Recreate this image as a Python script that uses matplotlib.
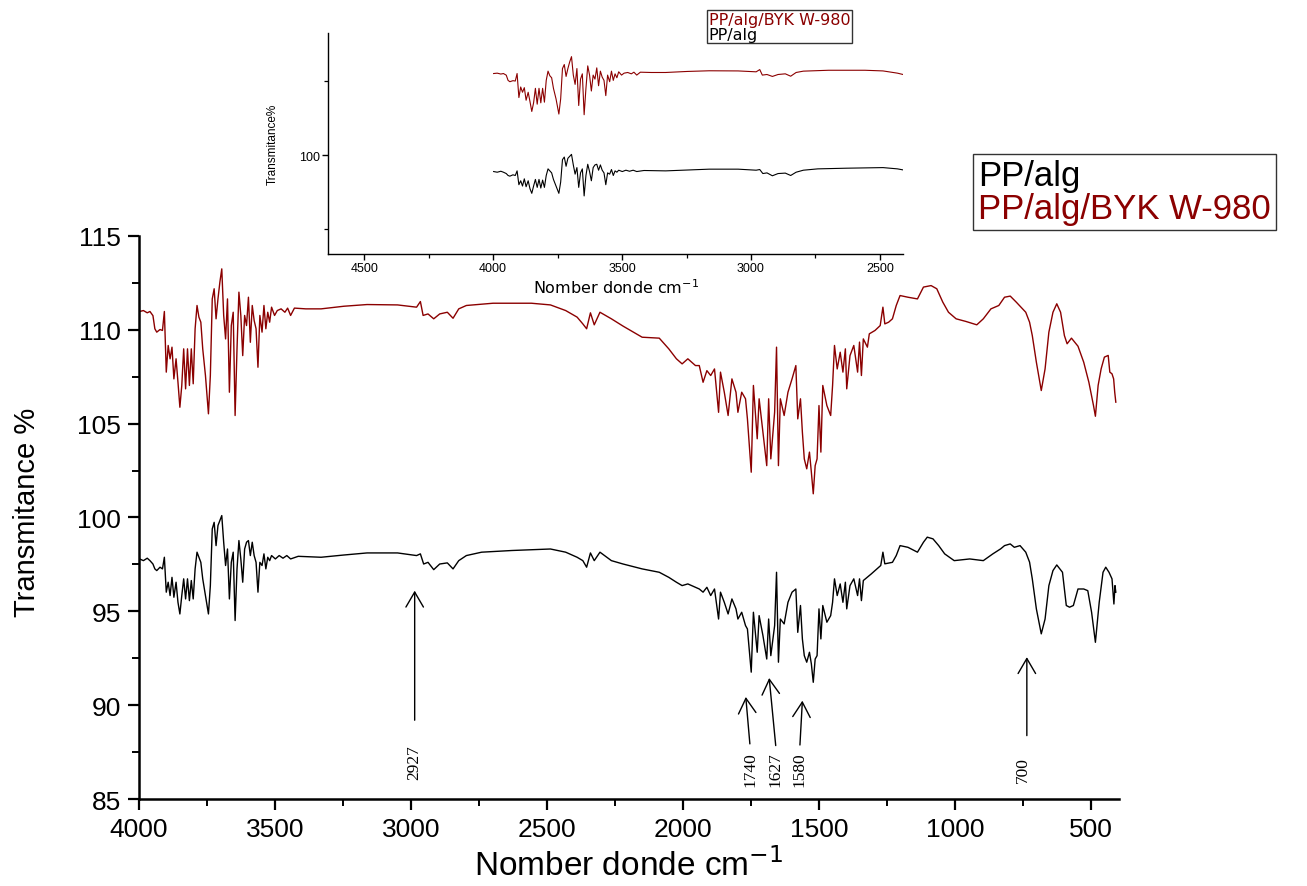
import matplotlib
matplotlib.use("Agg")
import matplotlib.pyplot as plt
from matplotlib.ticker import MultipleLocator
from matplotlib.lines import Line2D

# PP/alg (black)
wn_alg = [3998, 3984, 3970, 3960, 3949, 3942, 3935, 3923, 3914, 3907, 3900, 3893, 3886, 3879, 3872,
          3864, 3857, 3850, 3843, 3836, 3829, 3822, 3815, 3808, 3801, 3794, 3787, 3780, 3773, 3766,
          3756, 3745, 3738, 3731, 3724, 3717, 3710, 3703, 3696, 3689, 3682, 3675, 3668, 3661, 3654,
          3647, 3640, 3633, 3626, 3619, 3612, 3605, 3598, 3591, 3584, 3577, 3570, 3563, 3556, 3548,
          3541, 3534, 3527, 3520, 3513, 3499, 3485, 3471, 3457, 3443, 3415, 3331, 3247, 3162, 3050,
          2980, 2966, 2954, 2938, 2917, 2895, 2867, 2846, 2825, 2797, 2741, 2629, 2488, 2432, 2390,
          2369, 2355, 2341, 2327, 2306, 2264, 2221, 2151, 2088, 2053, 2025, 2004, 1983, 1955, 1941,
          1927, 1913, 1899, 1885, 1870, 1863, 1849, 1835, 1821, 1806, 1799, 1785, 1771, 1764, 1750,
          1742, 1728, 1721, 1707, 1693, 1686, 1678, 1664, 1657, 1650, 1643, 1629, 1615, 1600, 1586,
          1579, 1569, 1562, 1555, 1546, 1536, 1529, 1522, 1515, 1508, 1501, 1494, 1487, 1472, 1458,
          1451, 1444, 1434, 1423, 1413, 1404, 1399, 1387, 1373, 1359, 1352, 1345, 1338, 1323, 1309,
          1288, 1274, 1266, 1259, 1231, 1217, 1203, 1174, 1139, 1117, 1103, 1082, 1061, 1039, 1004,
          947, 897, 862, 833, 819, 798, 783, 762, 741, 727, 717, 702, 684, 670, 656,
          641, 627, 606, 592, 580, 566, 549, 528, 513, 499, 485, 471, 457, 447, 435,
          424, 417, 413, 410]
t_alg = [97.79, 97.70, 97.83, 97.70, 97.52, 97.26, 97.17, 97.35, 97.26, 97.88, 96.02, 96.55, 95.84, 96.81, 95.75,
         96.55, 95.48, 94.86, 95.84, 96.73, 95.66, 96.73, 95.57, 96.64, 95.66, 97.26, 98.15, 97.88, 97.61, 96.73,
         95.84, 94.86, 96.37, 99.39, 99.74, 98.50, 99.57, 99.83, 100.10, 98.68, 97.44, 98.32, 95.66, 97.61, 98.15,
         94.51, 97.26, 98.77, 97.79, 96.55, 98.32, 98.68, 98.77, 97.97, 98.68, 97.97, 97.61, 96.02, 97.61, 97.44,
         98.06, 97.26, 97.88, 97.70, 97.97, 97.79, 97.97, 97.83, 97.97, 97.79, 97.93, 97.88, 98.00, 98.11, 98.11,
         97.97, 98.06, 97.52, 97.61, 97.22, 97.52, 97.58, 97.26, 97.70, 97.97, 98.15, 98.24, 98.32, 98.15, 97.88,
         97.70, 97.35, 98.11, 97.70, 98.15, 97.70, 97.52, 97.26, 97.08, 96.81, 96.55, 96.37, 96.46, 96.28, 96.19,
         96.02, 96.28, 95.84, 96.19, 94.59, 96.02, 95.48, 94.86, 95.66, 95.13, 94.59, 94.95, 94.24, 94.06, 91.76,
         94.95, 92.82, 94.77, 93.71, 92.46, 94.59, 92.64, 94.24, 97.08, 92.29, 94.59, 94.33, 95.48, 96.02, 96.19,
         93.88, 95.31, 93.53, 92.64, 92.29, 92.82, 92.20, 91.22, 92.46, 92.64, 95.13, 93.53, 95.31, 94.42, 94.77,
         95.48, 96.73, 95.84, 96.46, 95.48, 96.55, 95.13, 96.37, 96.73, 95.84, 96.73, 95.57, 96.64, 96.82, 96.99,
         97.26, 97.44, 98.15, 97.53, 97.61, 97.97, 98.50, 98.41, 98.15, 98.68, 98.95, 98.86, 98.50, 98.06, 97.70,
         97.79, 97.70, 98.06, 98.33, 98.50, 98.59, 98.41, 98.50, 98.15, 97.62, 96.73, 95.13, 93.80, 94.59, 96.37,
         97.17, 97.47, 97.08, 95.31, 95.22, 95.31, 96.19, 96.19, 96.10, 94.95, 93.35, 95.48, 97.08, 97.35, 97.08,
         96.73, 95.39, 96.37, 96.02]

# PP/alg/BYK W-980 (dark red)
wn_byk = [3998, 3984, 3970, 3960, 3949, 3942, 3935, 3923, 3914, 3907, 3900, 3893, 3886, 3879, 3872,
          3864, 3857, 3850, 3843, 3836, 3829, 3822, 3815, 3808, 3801, 3794, 3787, 3780, 3773, 3766,
          3756, 3745, 3738, 3731, 3724, 3717, 3710, 3703, 3696, 3689, 3682, 3675, 3668, 3661, 3654,
          3647, 3640, 3633, 3626, 3619, 3612, 3605, 3598, 3591, 3584, 3577, 3570, 3563, 3556, 3548,
          3541, 3534, 3527, 3520, 3513, 3502, 3492, 3478, 3464, 3454, 3443, 3429, 3387, 3331, 3247,
          3162, 3050, 2980, 2966, 2956, 2938, 2917, 2895, 2867, 2846, 2825, 2797, 2699, 2558, 2488,
          2432, 2390, 2369, 2355, 2341, 2327, 2306, 2264, 2221, 2151, 2088, 2053, 2025, 2004, 1983,
          1955, 1941, 1927, 1913, 1899, 1885, 1870, 1863, 1849, 1835, 1821, 1806, 1799, 1785, 1771,
          1764, 1750, 1742, 1728, 1721, 1707, 1693, 1686, 1678, 1664, 1657, 1650, 1643, 1629, 1615,
          1600, 1586, 1579, 1569, 1562, 1555, 1546, 1536, 1529, 1522, 1515, 1508, 1501, 1494, 1487,
          1472, 1458, 1451, 1444, 1434, 1423, 1413, 1404, 1399, 1387, 1373, 1359, 1352, 1345, 1338,
          1323, 1316, 1295, 1276, 1266, 1259, 1245, 1231, 1217, 1203, 1174, 1139, 1117, 1089, 1068,
          1046, 1025, 997, 961, 921, 897, 869, 840, 819, 798, 776, 741, 727, 717, 702,
          684, 670, 656, 641, 627, 613, 599, 589, 573, 549, 528, 509, 492, 485, 475,
          464, 452, 438, 432, 424, 418, 414, 410]
t_byk = [110.97, 111.02, 110.90, 110.97, 110.75, 110.05, 109.87, 110.01, 109.96, 110.97, 107.74, 109.16, 108.45, 109.07, 107.38,
         108.45, 107.20, 105.87, 107.03, 108.98, 106.85, 108.98, 107.03, 108.98, 107.12, 110.05, 111.29, 110.67, 110.40, 108.98,
         107.56, 105.52, 107.56, 111.64, 112.18, 110.58, 111.64, 112.53, 113.24, 110.76, 109.51, 111.64, 106.67, 110.22, 110.93,
         105.43, 108.98, 112.00, 110.76, 108.62, 110.76, 110.22, 111.73, 109.33, 111.29, 110.49, 110.05, 108.00, 110.76, 109.87,
         111.29, 110.05, 110.93, 110.40, 111.20, 110.76, 111.02, 111.11, 110.93, 111.15, 110.76, 111.15, 111.11, 111.11, 111.25,
         111.34, 111.32, 111.20, 111.50, 110.76, 110.84, 110.58, 110.84, 110.93, 110.61, 111.11, 111.29, 111.41, 111.41, 111.32,
         111.02, 110.67, 110.31, 110.05, 110.90, 110.26, 110.93, 110.58, 110.19, 109.60, 109.55, 108.98, 108.45, 108.18, 108.45,
         108.09, 108.09, 107.20, 107.82, 107.56, 107.91, 105.60, 107.74, 106.67, 105.43, 107.38, 106.67, 105.60, 106.67, 106.32,
         105.25, 102.41, 107.03, 104.19, 106.32, 104.54, 102.76, 106.32, 103.12, 105.61, 109.07, 102.76, 106.32, 105.43, 106.67,
         107.38, 108.09, 105.25, 106.32, 104.54, 103.12, 102.59, 103.48, 102.41, 101.26, 102.76, 103.12, 105.96, 103.48, 107.03,
         105.96, 105.43, 107.03, 109.16, 107.91, 108.80, 107.74, 108.98, 106.85, 108.62, 109.16, 107.74, 109.34, 107.56, 109.51,
         109.07, 109.78, 109.96, 110.22, 111.20, 110.31, 110.40, 110.58, 111.29, 111.82, 111.73, 111.64, 112.27, 112.35, 112.18,
         111.47, 110.93, 110.58, 110.44, 110.26, 110.58, 111.11, 111.29, 111.73, 111.79, 111.47, 110.93, 110.40, 109.69, 108.27,
         106.76, 107.91, 109.87, 110.93, 111.38, 110.93, 109.69, 109.25, 109.55, 109.12, 108.27, 107.20, 105.96, 105.39, 107.03,
         107.91, 108.54, 108.63, 107.74, 107.65, 107.38, 106.67, 106.14]

labels = ["PP/alg", "PP/alg/BYK W-980"]
colors = ["black", "#8b0000"]

# marked bands: label, arrow tip (x, y), arrow tail (x, y), text position
peak_labels = ["2927", "1740", "1627", "1580", "700"]
tip_x = [2987, 1770, 1684, 1562, 737]
tip_y = [96.1, 90.44, 91.45, 90.24, 92.56]
tail_x = [2987, 1755, 1660, 1571, 737]
tail_y = [89.2, 87.94, 87.85, 87.88, 88.38]
text_x = [2987, 1752, 1662, 1571, 752]
text_y = [87.0, 86.6, 86.6, 86.6, 86.6]

plt.rcParams['font.family'] = ['Liberation Sans', 'DejaVu Sans']

fig = plt.figure(figsize=(13.07, 8.87), dpi=100)
ax = fig.add_axes([0.1064, 0.098, 0.7494, 0.635])

l1, = ax.plot(wn_alg, t_alg, color=colors[0], lw=1.0)
l2, = ax.plot(wn_byk, t_byk, color=colors[1], lw=1.0)

ax.set_xlim(4000, 400)
ax.set_ylim(85, 115)
ax.xaxis.set_major_locator(MultipleLocator(500))
ax.xaxis.set_minor_locator(MultipleLocator(250))
ax.yaxis.set_major_locator(MultipleLocator(5))
ax.yaxis.set_minor_locator(MultipleLocator(2.5))
ax.tick_params(which='major', length=8, width=1.6, labelsize=19, pad=5)
ax.tick_params(which='minor', length=5, width=1.4)
for s in ['top', 'right']:
    ax.spines[s].set_visible(False)
for s in ['left', 'bottom']:
    ax.spines[s].set_linewidth(1.8)

ax.set_xlabel("Nomber donde cm$^{-1}$", fontsize=24)
ax.xaxis.set_label_coords(0.5, -0.086)
ax.set_ylabel("Transmitance %", fontsize=21)
ax.yaxis.set_label_coords(-0.100, 0.51)

for i in range(len(peak_labels)):
    ax.annotate("", xy=(tip_x[i], tip_y[i]), xytext=(tail_x[i], tail_y[i]),
                arrowprops=dict(arrowstyle='->,head_length=0.6,head_width=0.35',
                                lw=1.0, color='black', shrinkA=0, shrinkB=0,
                                mutation_scale=18))
    ax.text(text_x[i], text_y[i], peak_labels[i], rotation=90, ha='center', va='center',
            fontsize=12.5, family='Liberation Serif')

leg = ax.legend([Line2D([], [], lw=0), Line2D([], [], lw=0)], labels,
                handlelength=0, handletextpad=0, labelcolor=colors,
                loc='upper left', bbox_to_anchor=(973 / 1307, 1 - 155 / 887),
                bbox_transform=fig.transFigure, fontsize=25, frameon=True,
                fancybox=False, edgecolor='black', borderpad=0.15,
                labelspacing=0.0, borderaxespad=0)
leg.get_frame().set_linewidth(1.0)

# inset: zoom on the high wavenumber region
ax_in = fig.add_axes([0.251, 0.7125, 0.440, 0.249])
ax_in.set_facecolor('none')
ax_in.plot(wn_alg, t_alg, color=colors[0], lw=0.8)
ax_in.plot(wn_byk, t_byk, color=colors[1], lw=0.8)
ax_in.set_xlim(4640, 2410)
ax_in.set_ylim(86.7, 116.4)
ax_in.xaxis.set_major_locator(MultipleLocator(500))
ax_in.xaxis.set_minor_locator(MultipleLocator(250))
ax_in.yaxis.set_major_locator(MultipleLocator(20))
ax_in.yaxis.set_minor_locator(MultipleLocator(10))
ax_in.tick_params(which='major', length=4, width=1.0, labelsize=9, pad=2)
ax_in.tick_params(which='minor', length=3, width=0.9)
for s in ['top', 'right']:
    ax_in.spines[s].set_visible(False)
for s in ['left', 'bottom']:
    ax_in.spines[s].set_linewidth(1.0)
ax_in.set_xlabel("Nomber donde cm$^{-1}$", fontsize=11.5, family='DejaVu Sans', labelpad=2)
ax_in.set_ylabel("Transmitance%", fontsize=8.5, labelpad=14)

leg_in = ax_in.legend([Line2D([], [], lw=0), Line2D([], [], lw=0)], labels[::-1],
                      handlelength=0, handletextpad=0, labelcolor=colors[::-1],
                      loc='upper left', bbox_to_anchor=(707 / 1307, 1 - 11 / 887),
                      bbox_transform=fig.transFigure,
                      prop={'family': 'DejaVu Sans', 'size': 11.5},
                      frameon=True, fancybox=False, edgecolor='black',
                      borderpad=0.1, labelspacing=0.0, borderaxespad=0)
leg_in.get_frame().set_linewidth(1.0)

fig.savefig("out.png", dpi=100)
